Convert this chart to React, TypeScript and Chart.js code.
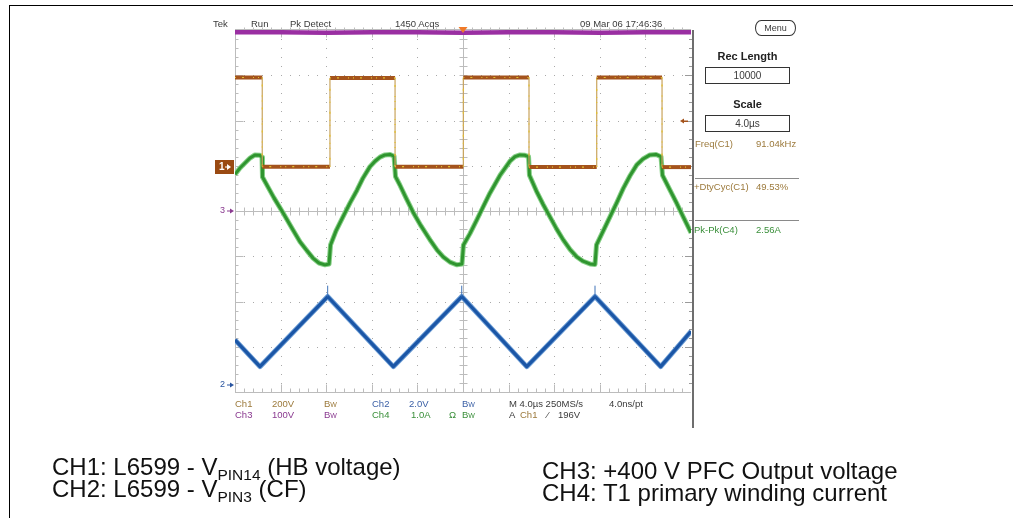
import React, { useEffect, useRef } from "react";
import { Chart, registerables } from "chart.js";

Chart.register(...registerables);

// ---- data (time in µs, amplitude in graticule divisions) ----
const timeRange = [0, 40];
const divRange = [-4, 4];

const ch1Time = [0, 2.39, 2.39, 8.33, 8.33, 14.04, 14.04, 20.03, 20.03, 25.79, 25.79, 31.73, 31.73, 37.46, 37.46, 40];
const ch1Div = [2.95, 2.95, 0.98, 0.98, 2.94, 2.94, 0.98, 0.98, 2.95, 2.95, 0.97, 0.97, 2.95, 2.95, 0.97, 0.97];

const ch2Time = [
  0, 0.44, 0.88, 1.32, 1.75, 2.19, 2.37, 2.41, 2.63, 3.42, 4.21, 5.0, 5.7, 6.32, 6.84, 7.37, 7.89, 8.25,
  8.38, 8.86, 9.47, 10.09, 10.7, 11.23, 11.84, 12.28, 12.72, 13.16, 13.6, 13.95,
  14.08, 14.47, 15.0, 15.61, 16.32, 17.11, 17.72, 18.25, 18.86, 19.47, 19.91,
  20.04, 20.61, 21.2, 21.78, 22.37, 23.25, 24.12, 24.56, 25.0, 25.44, 25.75,
  25.83, 26.46, 27.02, 27.63, 28.22, 28.8, 29.39, 29.97, 30.53, 31.14, 31.58,
  31.71, 32.28, 32.89, 33.48, 34.06, 34.65, 35.24, 35.79, 36.4, 36.93, 37.37,
  37.5, 38.16, 38.75, 39.32, 40.0,
];
const ch2Div = [
  0.81, 0.95, 1.06, 1.17, 1.24, 1.23, 1.19, 0.75, 0.65, 0.29, -0.04, -0.38, -0.68, -0.88, -1.04, -1.15, -1.19, -1.17,
  -0.75, -0.44, -0.13, 0.18, 0.46, 0.73, 0.98, 1.1, 1.19, 1.24, 1.25, 1.21,
  0.76, 0.57, 0.29, -0.02, -0.33, -0.64, -0.86, -1.01, -1.13, -1.19, -1.17,
  -0.75, -0.5, -0.2, 0.1, 0.4, 0.79, 1.1, 1.2, 1.24, 1.23, 1.2,
  0.79, 0.43, 0.15, -0.13, -0.4, -0.64, -0.85, -1.01, -1.11, -1.17, -1.18,
  -0.75, -0.45, -0.13, 0.18, 0.5, 0.78, 1.02, 1.15, 1.24, 1.25, 1.2,
  0.79, 0.46, 0.17, -0.13, -0.48,
];

const ch3Time = [0, 4, 8, 12, 16, 20, 24, 28, 32, 36, 40];
const ch3Div = [3.95, 3.95, 3.94, 3.95, 3.95, 3.94, 3.95, 3.95, 3.94, 3.95, 3.95];

const ch4Time = [0, 2.19, 8.13, 13.89, 19.89, 25.59, 31.58, 37.34, 40];
const ch4Div = [-2.85, -3.44, -1.89, -3.44, -1.89, -3.44, -1.89, -3.44, -2.66];
const ch4SpikeTime = [8.13, 19.89, 31.58];
const ch4SpikeTop = [-1.65, -1.65, -1.65];

const groundMarkers = [
  { label: "1", div: 0.98, color: "#9a4a12" },
  { label: "3", div: 0, color: "#8a3a90" },
  { label: "2", div: -3.85, color: "#2a55a0" },
];
const triggerLevelDiv = 1.99;
const triggerTime = 20;

const pts = (xs: number[], ys: number[]) => xs.map((t, i) => ({ x: t, y: ys[i] }));

const graticulePlugin = {
  id: "graticule",
  beforeDatasetsDraw(chart: any) {
    const { ctx, chartArea: a, scales } = chart;
    const x = scales.x;
    const y = scales.y;
    ctx.save();
    const minorT = (timeRange[1] - timeRange[0]) / 50;
    const minorV = (divRange[1] - divRange[0]) / 40;
    // dotted major grid
    ctx.fillStyle = "#a9a9a9";
    for (let i = 1; i < 10; i++) {
      if (i === 5) continue;
      const px = Math.round(x.getPixelForValue(timeRange[0] + i * 4));
      for (let k = 1; k < 40; k++) {
        const py = Math.round(y.getPixelForValue(divRange[0] + k * minorV));
        ctx.fillRect(px, py, 1, 1);
      }
    }
    for (let j = 1; j < 8; j++) {
      if (j === 4) continue;
      const py = Math.round(y.getPixelForValue(divRange[0] + j));
      for (let k = 1; k < 50; k++) {
        const px = Math.round(x.getPixelForValue(timeRange[0] + k * minorT));
        ctx.fillRect(px, py, 1, 1);
      }
    }
    ctx.strokeStyle = "#bcbcbc";
    ctx.lineWidth = 1;
    const cx = Math.round(x.getPixelForValue(triggerTime)) + 0.5;
    const cy = Math.round(y.getPixelForValue(0)) + 0.5;
    ctx.beginPath();
    ctx.moveTo(a.left, cy);
    ctx.lineTo(a.right, cy);
    ctx.moveTo(cx, a.top);
    ctx.lineTo(cx, a.bottom);
    // ticks on center lines
    for (let k = 1; k < 50; k++) {
      const px = Math.round(x.getPixelForValue(k * minorT)) + 0.5;
      ctx.moveTo(px, cy - 4);
      ctx.lineTo(px, cy + 4);
    }
    for (let k = 1; k < 40; k++) {
      const py = Math.round(y.getPixelForValue(divRange[0] + k * minorV)) + 0.5;
      ctx.moveTo(cx - 4, py);
      ctx.lineTo(cx + 4, py);
    }
    // left border
    const lx = Math.round(a.left) + 0.5;
    ctx.moveTo(lx, a.top);
    ctx.lineTo(lx, a.bottom);
    for (let k = 1; k < 40; k++) {
      const py = Math.round(y.getPixelForValue(divRange[0] + k * minorV)) + 0.5;
      const len = k % 5 === 0 ? 8 : 3;
      ctx.moveTo(lx, py);
      ctx.lineTo(lx + len, py);
    }
    // bottom and top borders
    const by = Math.round(a.bottom) + 0.5;
    const ty = Math.round(a.top) - 0.5;
    ctx.moveTo(a.left, by);
    ctx.lineTo(a.right, by);
    ctx.moveTo(a.left, ty);
    ctx.lineTo(a.right, ty);
    for (let k = 1; k < 50; k++) {
      const px = Math.round(x.getPixelForValue(k * minorT)) + 0.5;
      const len = k % 5 === 0 ? 8 : 4;
      ctx.moveTo(px, by);
      ctx.lineTo(px, by - len);
      ctx.moveTo(px, ty - 2);
      ctx.lineTo(px, ty + len);
    }
    ctx.stroke();
    // right border (darker, longer)
    const rx = Math.round(a.right) + 2;
    ctx.strokeStyle = "#9a9a9a";
    ctx.beginPath();
    for (let k = 1; k < 40; k++) {
      const py = Math.round(y.getPixelForValue(divRange[0] + k * minorV)) + 0.5;
      const len = k % 5 === 0 ? 7 : 3;
      ctx.moveTo(rx - 1, py);
      ctx.lineTo(rx - 1 - len, py);
    }
    ctx.stroke();
    ctx.strokeStyle = "#6e6e6e";
    ctx.lineWidth = 2;
    ctx.beginPath();
    ctx.moveTo(rx, a.top);
    ctx.lineTo(rx, a.bottom + 36);
    ctx.stroke();
    ctx.restore();
  },
  afterDatasetsDraw(chart: any) {
    const { ctx, chartArea: a, scales } = chart;
    const x = scales.x;
    const y = scales.y;
    ctx.save();
    ctx.font = "bold 10px 'Liberation Sans', Arial, sans-serif";
    ctx.textBaseline = "middle";
    for (const m of groundMarkers) {
      const py = Math.round(y.getPixelForValue(m.div));
      if (m.label === "1") {
        ctx.fillStyle = m.color;
        ctx.fillRect(a.left - 20, py - 7, 19, 14);
        ctx.fillStyle = "#ffffff";
        ctx.fillText("1", a.left - 16, py);
        ctx.beginPath();
        ctx.moveTo(a.left - 4, py);
        ctx.lineTo(a.left - 8, py - 3);
        ctx.lineTo(a.left - 8, py + 3);
        ctx.closePath();
        ctx.fill();
        ctx.fillRect(a.left - 10, py - 0.5, 3, 1);
      } else {
        ctx.fillStyle = m.color;
        ctx.font = "9px 'Liberation Sans', Arial, sans-serif";
        ctx.fillText(m.label, a.left - 15, py);
        ctx.beginPath();
        ctx.moveTo(a.left - 1, py);
        ctx.lineTo(a.left - 5, py - 2.5);
        ctx.lineTo(a.left - 5, py + 2.5);
        ctx.closePath();
        ctx.fill();
        ctx.fillRect(a.left - 8, py - 0.5, 4, 1);
      }
    }
    // trigger level marker (right)
    const ty = Math.round(y.getPixelForValue(triggerLevelDiv));
    ctx.fillStyle = "#a4531c";
    ctx.beginPath();
    ctx.moveTo(a.right - 11, ty);
    ctx.lineTo(a.right - 7, ty - 2.5);
    ctx.lineTo(a.right - 7, ty + 2.5);
    ctx.closePath();
    ctx.fill();
    ctx.fillRect(a.right - 8, ty - 0.5, 5, 1.5);
    // trigger position marker (top)
    const tx = x.getPixelForValue(triggerTime);
    ctx.fillStyle = "#f07a28";
    ctx.beginPath();
    ctx.moveTo(tx - 4.5, a.top - 3);
    ctx.lineTo(tx + 4.5, a.top - 3);
    ctx.lineTo(tx, a.top + 3);
    ctx.closePath();
    ctx.fill();
    ctx.restore();
  },
};

const txt = (s: React.CSSProperties): React.CSSProperties => ({
  position: "absolute",
  whiteSpace: "nowrap",
  lineHeight: 1,
  fontFamily: "'Liberation Sans', Arial, sans-serif",
  ...s,
});

const scopeFont = 9.5;
const tan = "#9c7a3c";
const purple = "#8a3a90";
const blue = "#3a5fa5";
const green = "#3a8f3a";
const dark = "#3a3a3a";

const Bw = ({ color }: { color: string }) => (
  <span style={{ color }}>
    B<span style={{ fontSize: 7 }}>W</span>
  </span>
);

export default function App() {
  const ref = useRef<HTMLCanvasElement | null>(null);
  useEffect(() => {
    if (!ref.current) return;
    const vertical = (c: any) => c.p0.parsed.x === c.p1.parsed.x;
    const chart = new Chart(ref.current, {
      type: "line",
      data: {
        datasets: [
          {
            label: "CH1 specks",
            data: pts(ch1Time, ch1Div),
            borderColor: "#e2c030",
            borderWidth: 1.2,
            borderDash: [1, 6, 2, 9, 1, 4],
            pointRadius: 0,
            segment: { borderWidth: (c: any) => (vertical(c) ? 0 : 1.2) },
          } as any,
          {
            label: "CH1",
            data: pts(ch1Time, ch1Div),
            borderColor: "#a4531c",
            borderWidth: 4,
            pointRadius: 0,
            segment: {
              borderWidth: (c: any) => (vertical(c) ? 1.2 : 4),
              borderColor: (c: any) => (vertical(c) ? "#c9a45e" : "#a4531c"),
            },
          } as any,
          {
            label: "CH2",
            data: pts(ch2Time, ch2Div),
            borderColor: "#2f952f",
            borderWidth: 3,
            pointRadius: 0,
          },
          {
            label: "CH2 halo",
            data: pts(ch2Time, ch2Div),
            borderColor: "#86cf86",
            borderWidth: 5,
            pointRadius: 0,
          },
          {
            label: "CH4 spikes",
            data: ch4SpikeTime.flatMap((t, i) => [
              { x: t, y: ch4Div[2 * i + 2] },
              { x: t, y: ch4SpikeTop[i] },
              { x: t, y: null },
            ]),
            borderColor: "#3f73b8",
            borderWidth: 1,
            pointRadius: 0,
            spanGaps: false,
          } as any,
          {
            label: "CH4",
            data: pts(ch4Time, ch4Div),
            borderColor: "#1b56a6",
            borderWidth: 3.2,
            pointRadius: 0,
          },
          {
            label: "CH4 halo",
            data: pts(ch4Time, ch4Div),
            borderColor: "#6f9fd6",
            borderWidth: 5,
            pointRadius: 0,
          },
          {
            label: "CH3",
            data: pts(ch3Time, ch3Div),
            borderColor: "#9a2fa2",
            borderWidth: 4.5,
            pointRadius: 0,
          },
        ],
      },
      options: {
        animation: false,
        responsive: false,
        devicePixelRatio: 1,
        layout: { padding: { left: 235, right: 325, top: 30, bottom: 126 } },
        plugins: { legend: { display: false }, tooltip: { enabled: false } },
        elements: { line: { tension: 0, borderJoinStyle: "round", borderCapStyle: "butt" } },
        scales: {
          x: { type: "linear", min: timeRange[0], max: timeRange[1], display: false },
          y: { type: "linear", min: divRange[0], max: divRange[1], display: false },
        },
      },
      plugins: [graticulePlugin],
    });
    return () => chart.destroy();
  }, []);

  const fs = scopeFont;
  const row1 = 399;
  const row2 = 410;
  return (
    <div style={{ position: "fixed", left: 0, top: 0, width: 1016, height: 518, background: "#fff", overflow: "hidden" }}>
      <div style={{ position: "absolute", left: 9, top: 5, width: 1003, height: 520, borderTop: "1.5px solid #000", borderLeft: "1.5px solid #000" }} />
      <canvas ref={ref} width={1016} height={518} style={{ position: "absolute", left: 0, top: 0, width: 1016, height: 518 }} />

      {/* status bar */}
      <span style={txt({ left: 213, top: 18.5, fontSize: fs, color: dark })}>Tek</span>
      <span style={txt({ left: 251, top: 18.5, fontSize: fs, color: dark })}>Run</span>
      <span style={txt({ left: 290, top: 18.5, fontSize: fs, color: dark })}>Pk Detect</span>
      <span style={txt({ left: 395, top: 18.5, fontSize: fs, color: dark })}>1450 Acqs</span>
      <span style={txt({ left: 580, top: 18.5, fontSize: fs, color: dark })}>09 Mar 06 17:46:36</span>

      {/* right panel */}
      <div style={{ position: "absolute", left: 755, top: 20, width: 41, height: 16, border: "1px solid #333", borderRadius: "7px / 9px", boxSizing: "border-box" }} />
      <span style={txt({ left: 755, top: 23.5, width: 41, textAlign: "center", fontSize: 9, color: dark })}>Menu</span>
      <span style={txt({ left: 705, top: 51, width: 85, textAlign: "center", fontSize: 11, fontWeight: "bold", color: "#222" })}>Rec Length</span>
      <div style={{ position: "absolute", left: 705, top: 67, width: 85, height: 17, border: "1.5px solid #333", boxSizing: "border-box" }} />
      <span style={txt({ left: 705, top: 70.5, width: 85, textAlign: "center", fontSize: 10, color: dark })}>10000</span>
      <span style={txt({ left: 705, top: 98.5, width: 85, textAlign: "center", fontSize: 11, fontWeight: "bold", color: "#222" })}>Scale</span>
      <div style={{ position: "absolute", left: 705, top: 115, width: 85, height: 17, border: "1.5px solid #333", boxSizing: "border-box" }} />
      <span style={txt({ left: 705, top: 118.5, width: 85, textAlign: "center", fontSize: 10, color: dark })}>4.0µs</span>

      <span style={txt({ left: 695, top: 138.5, fontSize: fs, color: tan })}>Freq(C1)</span>
      <span style={txt({ left: 756, top: 138.5, fontSize: fs, color: tan })}>91.04kHz</span>
      <div style={{ position: "absolute", left: 695, top: 178, width: 104, height: 1, background: "#8a8a8a" }} />
      <span style={txt({ left: 694, top: 181.5, fontSize: fs, color: tan })}>+DtyCyc(C1)</span>
      <span style={txt({ left: 756, top: 181.5, fontSize: fs, color: tan })}>49.53%</span>
      <div style={{ position: "absolute", left: 695, top: 220, width: 104, height: 1, background: "#8a8a8a" }} />
      <span style={txt({ left: 694, top: 224.5, fontSize: fs, color: green })}>Pk-Pk(C4)</span>
      <span style={txt({ left: 756, top: 224.5, fontSize: fs, color: green })}>2.56A</span>

      {/* channel settings */}
      <span style={txt({ left: 235, top: row1, fontSize: fs, color: tan })}>Ch1</span>
      <span style={txt({ left: 272, top: row1, fontSize: fs, color: tan })}>200V</span>
      <span style={txt({ left: 324, top: row1, fontSize: fs })}><Bw color={tan} /></span>
      <span style={txt({ left: 372, top: row1, fontSize: fs, color: blue })}>Ch2</span>
      <span style={txt({ left: 409, top: row1, fontSize: fs, color: blue })}>2.0V</span>
      <span style={txt({ left: 462, top: row1, fontSize: fs })}><Bw color={blue} /></span>
      <span style={txt({ left: 235, top: row2, fontSize: fs, color: purple })}>Ch3</span>
      <span style={txt({ left: 272, top: row2, fontSize: fs, color: purple })}>100V</span>
      <span style={txt({ left: 324, top: row2, fontSize: fs })}><Bw color={purple} /></span>
      <span style={txt({ left: 372, top: row2, fontSize: fs, color: green })}>Ch4</span>
      <span style={txt({ left: 411, top: row2, fontSize: fs, color: green })}>1.0A</span>
      <span style={txt({ left: 449, top: row2, fontSize: fs, color: green })}>Ω</span>
      <span style={txt({ left: 462, top: row2, fontSize: fs })}><Bw color={green} /></span>
      <span style={txt({ left: 509, top: row1, fontSize: fs, color: dark })}>M 4.0µs 250MS/s</span>
      <span style={txt({ left: 609, top: row1, fontSize: fs, color: dark })}>4.0ns/pt</span>
      <span style={txt({ left: 509, top: row2, fontSize: fs, color: dark })}>A</span>
      <span style={txt({ left: 520, top: row2, fontSize: fs, color: tan })}>Ch1</span>
      <span style={txt({ left: 547, top: row2, fontSize: fs, color: dark })}>⁄</span>
      <span style={txt({ left: 558, top: row2, fontSize: fs, color: dark })}>196V</span>

      {/* captions */}
      <span style={txt({ left: 52, top: 455, fontSize: 24, color: "#111" })}>
        CH1: L6599 - V<span style={{ fontSize: 15.5, position: "relative", top: 5 }}>PIN14</span> (HB voltage)
      </span>
      <span style={txt({ left: 52, top: 477, fontSize: 24, color: "#111" })}>
        CH2: L6599 - V<span style={{ fontSize: 15.5, position: "relative", top: 5 }}>PIN3</span> (CF)
      </span>
      <span style={txt({ left: 542, top: 459, fontSize: 24, color: "#111" })}>CH3: +400 V PFC Output voltage</span>
      <span style={txt({ left: 542, top: 481, fontSize: 24, color: "#111" })}>CH4: T1 primary winding current</span>
    </div>
  );
}
